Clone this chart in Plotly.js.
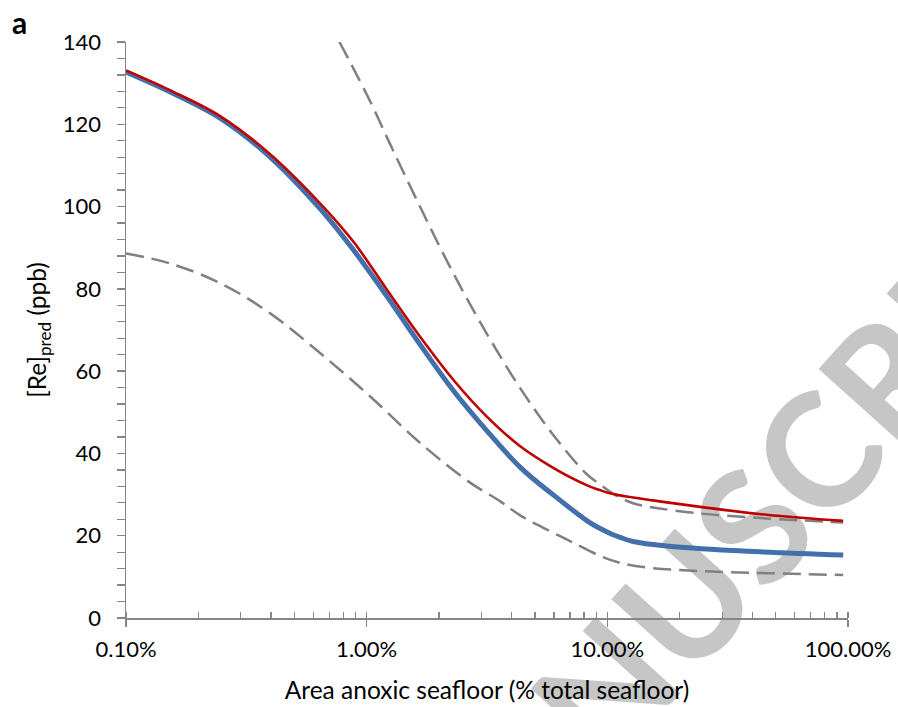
<!DOCTYPE html>
<html>
<head>
<meta charset="utf-8">
<script src="https://cdn.plot.ly/plotly-3.0.1.min.js"></script>
<style>html,body{margin:0;padding:0;background:#fff;}#chart{width:898px;height:707px;}</style>
</head>
<body>
<div id="chart"></div>
<script>
// ---- data (x in % of total seafloor, y in ppb) ----
const blueX = [0.1, 0.152, 0.246, 0.396, 0.64, 0.88, 1.21, 1.665, 2.29, 3.16, 4.37, 6.0, 8.3, 9.3, 10.5, 11.3, 12.8, 17.6, 33.3, 95.5];
const blueY = [132.7, 127.9, 121.5, 112.1, 99.5, 89.5, 78.3, 66.5, 55.3, 45.5, 36.5, 29.8, 23.5, 21.8, 20.3, 19.6, 18.6, 17.5, 16.4, 15.3];

const redX = [0.1, 0.152, 0.246, 0.396, 0.64, 0.88, 1.21, 1.665, 2.29, 3.15, 4.33, 5.96, 8.2, 9.31, 10.25, 11.3, 12.8, 15.0, 24.3, 45.9, 95.5];
const redY = [133.1, 128.3, 122.0, 112.8, 100.8, 91.5, 79.9, 68.4, 57.9, 49.0, 41.8, 36.5, 32.3, 31.1, 30.3, 29.8, 29.3, 28.7, 27.0, 25.1, 23.6];

const upperX = [0.77, 0.866, 1.06, 1.21, 1.665, 2.29, 3.15, 4.33, 5.96, 8.2, 9.31, 10.93, 12.8, 15.0, 24.3, 45.9, 95.5];
const upperY = [140, 134.4, 124.3, 117.0, 100.0, 83.8, 69.2, 56.0, 44.5, 35.0, 32.5, 29.7, 27.9, 27.0, 25.4, 24.2, 23.2];

const lowerX = [0.1, 0.152, 0.246, 0.396, 0.64, 1.032, 1.665, 2.69, 3.58, 4.33, 5.78, 7.0, 9.31, 11.3, 15.0, 24.3, 45.9, 95.5];
const lowerY = [88.6, 86.2, 81.4, 74.1, 64.4, 53.9, 42.6, 32.9, 28.4, 25.0, 21.1, 18.7, 15.1, 13.4, 12.2, 11.4, 10.9, 10.45];

const xTickVals = [0.1, 1, 10, 100];
const xTickText = ["0.10%", "1.00%", "10.00%", "100.00%"];
const xMinorVals = [0.1,0.2,0.3,0.4,0.5,0.6,0.7,0.8,0.9,1,2,3,4,5,6,7,8,9,10,20,30,40,50,60,70,80,90,100];

const FONT = "Lato, 'Open Sans', sans-serif";
const AXC = "#868686";

const dashStyle = {color: "#808080", width: 2.5, dash: "18px,8px", shape: "spline", smoothing: 1};

const traces = [
  {x: upperX, y: upperY, mode: "lines", line: dashStyle, hoverinfo: "skip"},
  {x: lowerX, y: lowerY, mode: "lines", line: dashStyle, hoverinfo: "skip"},
  {x: blueX, y: blueY, mode: "lines", line: {color: "#4370ab", width: 5, shape: "spline", smoothing: 1}, hoverinfo: "skip"},
  {x: redX, y: redY, mode: "lines", line: {color: "#c00000", width: 2.6, shape: "spline", smoothing: 1}, hoverinfo: "skip"}
];

const layout = {
  width: 898, height: 707,
  margin: {l: 126, r: 50, t: 42, b: 89, pad: 0},
  paper_bgcolor: "#fff", plot_bgcolor: "#fff",
  showlegend: false,
  font: {family: FONT, color: "#000"},
  xaxis: {
    type: "log", range: [-1, 2],
    tickmode: "array", tickvals: xTickVals, ticktext: xTickText,
    ticks: "outside", ticklen: 7, tickwidth: 1.5, tickcolor: AXC,
    showline: true, linecolor: AXC, linewidth: 1.5,
    showgrid: false, zeroline: false,
    tickfont: {family: FONT, size: 22, color: "#000"},
    ticklabelstandoff: 4,
    minor: {tickmode: "array", tickvals: xMinorVals, ticks: "inside", ticklen: 6, tickwidth: 1.3, tickcolor: AXC, showgrid: false},
    title: {text: "Area anoxic seafloor (% total seafloor)", font: {family: FONT, size: 24.5, color: "#000"}, standoff: 21}
  },
  yaxis: {
    range: [0, 140], dtick: 20, tick0: 0,
    ticks: "outside", ticklen: 8, tickwidth: 1.5, tickcolor: AXC,
    showline: true, linecolor: AXC, linewidth: 1.5,
    showgrid: false, zeroline: false,
    tickfont: {family: FONT, size: 22, color: "#000"},
    ticklabelstandoff: 11,
    minor: {dtick: 4, ticks: "outside", ticklen: 8, tickwidth: 1.3, tickcolor: AXC, showgrid: false},
    title: {text: "[Re]<sub>pred</sub> (ppb)", font: {family: FONT, size: 24.5, color: "#000"}, standoff: 9}
  },
  shapes: [{
    type: "rect", xref: "paper", yref: "paper",
    x0: 0.827, x1: 0.851, y0: 0.120, y1: 0.144,
    line: {width: 0}, fillcolor: "rgba(0,0,0,0)", layer: "below",
    label: {text: "MANUSCRIPT", textangle: -48, textposition: "middle center",
            font: {family: FONT, size: 158, color: "#c6c6c6", weight: "bold"}}
  }],
  annotations: [{
    text: "<b>a</b>", xref: "paper", yref: "paper", x: -0.148, y: 1.035,
    xanchor: "center", yanchor: "middle", showarrow: false,
    font: {family: FONT, size: 30, color: "#000"}
  }]
};

Plotly.newPlot("chart", traces, layout, {displayModeBar: false, staticPlot: true});
</script>
</body>
</html>
